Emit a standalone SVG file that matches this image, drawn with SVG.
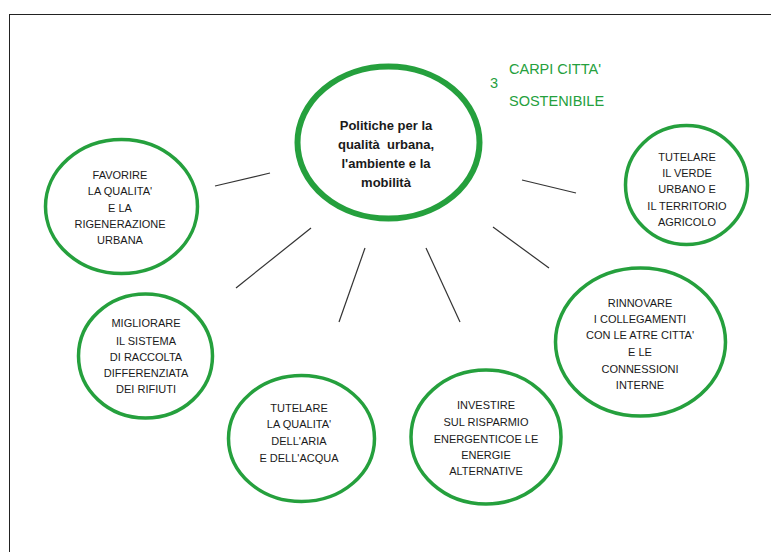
<svg xmlns="http://www.w3.org/2000/svg" width="771" height="552" viewBox="0 0 771 552">
<style>
.n{fill:#fff;stroke:#25a03d;stroke-width:3.5}
.c{fill:#fff;stroke:#25a03d;stroke-width:6}
.t{font-family:"Liberation Sans",Arial,sans-serif;font-size:11px;fill:#1a1a1a;text-anchor:middle}
.b{font-family:"Liberation Sans",Arial,sans-serif;font-size:13px;font-weight:bold;fill:#1a1a1a;text-anchor:middle}
.g{font-family:"Liberation Sans",Arial,sans-serif;font-size:14.5px;fill:#25a03d}
.l{stroke:#333;stroke-width:1.2;fill:none}
</style>
<rect x="9.5" y="14.5" width="800" height="600" fill="#fff" stroke="#222" stroke-width="1"/>
<g id="connectors">
<line class="l" x1="215" y1="186" x2="270" y2="173"/>
<line class="l" x1="236" y1="288" x2="311" y2="228"/>
<line class="l" x1="339" y1="322" x2="365" y2="248"/>
<line class="l" x1="426" y1="248" x2="460" y2="322"/>
<line class="l" x1="493" y1="227" x2="549" y2="268"/>
<line class="l" x1="522" y1="180" x2="576" y2="193"/>
</g>
<g id="title">
<text class="g" x="490" y="88">3</text>
<text class="g" x="509" y="74">CARPI CITTA'</text>
<text class="g" x="509" y="106">SOSTENIBILE</text>
</g>
<g id="center">
<ellipse class="c" cx="388.5" cy="142.5" rx="91" ry="76"/>
<text class="b" x="386" y="130">Politiche per la</text>
<text class="b" x="386" y="149" xml:space="preserve">qualità  urbana,</text>
<text class="b" x="386" y="168">l'ambiente e la</text>
<text class="b" x="386" y="187">mobilità</text>
</g>
<g id="favorire">
<ellipse class="n" cx="121.5" cy="206.5" rx="76" ry="67"/>
<text class="t" x="120" y="179">FAVORIRE</text>
<text class="t" x="120" y="195">LA QUALITA'</text>
<text class="t" x="120" y="212">E LA</text>
<text class="t" x="120" y="228">RIGENERAZIONE</text>
<text class="t" x="120" y="244">URBANA</text>
</g>
<g id="verde">
<ellipse class="n" cx="686.5" cy="185" rx="61" ry="59.5"/>
<text class="t" x="687" y="161">TUTELARE</text>
<text class="t" x="687" y="177">IL VERDE</text>
<text class="t" x="687" y="193">URBANO E</text>
<text class="t" x="687" y="210">IL TERRITORIO</text>
<text class="t" x="687" y="226">AGRICOLO</text>
</g>
<g id="rifiuti">
<ellipse class="n" cx="145.5" cy="356" rx="67" ry="62"/>
<text class="t" x="146" y="327">MIGLIORARE</text>
<text class="t" x="146" y="345">IL SISTEMA</text>
<text class="t" x="146" y="361">DI RACCOLTA</text>
<text class="t" x="146" y="377">DIFFERENZIATA</text>
<text class="t" x="146" y="393">DEI RIFIUTI</text>
</g>
<g id="aria">
<ellipse class="n" cx="301.5" cy="438.5" rx="73" ry="63"/>
<text class="t" x="299" y="412">TUTELARE</text>
<text class="t" x="299" y="428">LA QUALITA'</text>
<text class="t" x="299" y="445">DELL'ARIA</text>
<text class="t" x="299" y="462">E DELL'ACQUA</text>
</g>
<g id="energie">
<ellipse class="n" cx="486" cy="437" rx="75" ry="67"/>
<text class="t" x="486" y="409">INVESTIRE</text>
<text class="t" x="486" y="426">SUL RISPARMIO</text>
<text class="t" x="486" y="443">ENERGENTICOE LE</text>
<text class="t" x="486" y="459">ENERGIE</text>
<text class="t" x="486" y="475">ALTERNATIVE</text>
</g>
<g id="collegamenti">
<ellipse class="n" cx="640.5" cy="342" rx="85" ry="74"/>
<text class="t" x="640" y="307">RINNOVARE</text>
<text class="t" x="640" y="323">I COLLEGAMENTI</text>
<text class="t" x="640" y="339">CON LE ATRE CITTA'</text>
<text class="t" x="640" y="356">E LE</text>
<text class="t" x="640" y="373">CONNESSIONI</text>
<text class="t" x="640" y="389">INTERNE</text>
</g>
</svg>
